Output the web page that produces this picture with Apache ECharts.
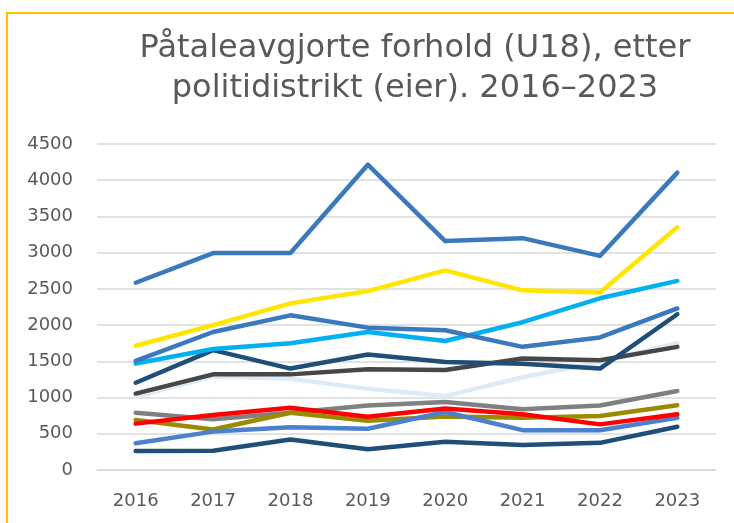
<!DOCTYPE html>
<html>
<head>
<meta charset="utf-8">
<script src="https://cdn.jsdelivr.net/npm/echarts@6/dist/echarts.min.js"></script>
<style>
html,body{margin:0;padding:0;background:#fff;}
#wrap{position:relative;width:734px;height:523px;overflow:hidden;}
#chart{position:absolute;left:0;top:0;width:734px;height:523px;}
#frame{position:absolute;left:6px;top:12px;width:740px;height:520px;border-top:2px solid #FFC000;border-left:2px solid #FFC000;pointer-events:none;}
</style>
</head>
<body>
<div id="wrap"><div id="chart"></div><div id="frame"></div></div>
<script>
const titleLines = ['Påtaleavgjorte forhold (U18), etter', 'politidistrikt (eier). 2016–2023'];
const years = ['2016','2017','2018','2019','2020','2021','2022','2023'];
const yTicks = {min: 0, max: 4500, interval: 500};

const sVeryLight = [1010, 1290, 1260, 1120, 1020, 1280, 1490, 1750];
const sGray      = [790, 700, 790, 890, 940, 840, 890, 1090];
const sOlive     = [690, 560, 790, 680, 740, 720, 745, 895];
const sBlue2     = [370, 530, 590, 570, 800, 550, 550, 720];
const sNavy2     = [262, 265, 420, 286, 390, 345, 375, 598];
const sDarkGray  = [1055, 1320, 1320, 1390, 1380, 1540, 1515, 1700];
const sNavy      = [1205, 1655, 1400, 1595, 1490, 1465, 1400, 2150];
const sCyan      = [1470, 1670, 1750, 1905, 1780, 2040, 2370, 2610];
const sBlueMid   = [1505, 1905, 2135, 1965, 1930, 1700, 1830, 2230];
const sYellow    = [1715, 2000, 2300, 2470, 2755, 2480, 2450, 3350];
const sRed       = [640, 760, 860, 735, 850, 770, 630, 770];
const sBlueTop   = [2585, 2995, 2995, 4215, 3160, 3200, 2955, 4105];

const seriesDefs = [
  ['A', sVeryLight, '#DEEBF7'],
  ['B', sGray, '#808080'],
  ['C', sOlive, '#9A8A00'],
  ['D', sBlue2, '#4A80CC'],
  ['E', sNavy2, '#1F4E79'],
  ['F', sDarkGray, '#474747'],
  ['G', sNavy, '#1F4E79'],
  ['H', sCyan, '#00B0F0'],
  ['I', sBlueMid, '#3A79BE'],
  ['J', sYellow, '#FFE500'],
  ['K', sRed, '#FF0000'],
  ['L', sBlueTop, '#3A79BE']
];

const chart = echarts.init(document.getElementById('chart'), null, {renderer: 'canvas'});
const font = '"DejaVu Sans", Verdana, sans-serif';
chart.setOption({
  animation: false,
  backgroundColor: '#ffffff',
  graphic: [{
    type: 'text',
    x: 415,
    y: 29,
    style: {
      text: titleLines.join('\n'),
      fill: '#595959',
      fontSize: 32,
      fontFamily: font,
      lineHeight: 40,
      align: 'center',
      textAlign: 'center',
      verticalAlign: 'top',
      textVerticalAlign: 'top'
    }
  }],
  grid: {left: 97, right: 18, top: 144, bottom: 53, containLabel: false},
  xAxis: {
    type: 'category',
    data: years,
    boundaryGap: true,
    axisLine: {show: true, lineStyle: {color: '#D9D9D9', width: 1.5}},
    axisTick: {show: false},
    axisLabel: {color: '#595959', fontSize: 18, fontFamily: font, margin: 22}
  },
  yAxis: {
    type: 'value',
    min: yTicks.min,
    max: yTicks.max,
    interval: yTicks.interval,
    axisLine: {show: false},
    axisTick: {show: false},
    axisLabel: {color: '#595959', fontSize: 18, fontFamily: font, margin: 24, formatter: v => String(v)},
    splitLine: {show: true, lineStyle: {color: '#D9D9D9', width: 1.5}}
  },
  series: seriesDefs.map(([name, data, color]) => ({
    name: name,
    type: 'line',
    data: data,
    symbol: 'none',
    smooth: false,
    lineStyle: {color: color, width: 4.5, cap: 'round', join: 'round'},
    itemStyle: {color: color}
  }))
});
</script>
</body>
</html>
